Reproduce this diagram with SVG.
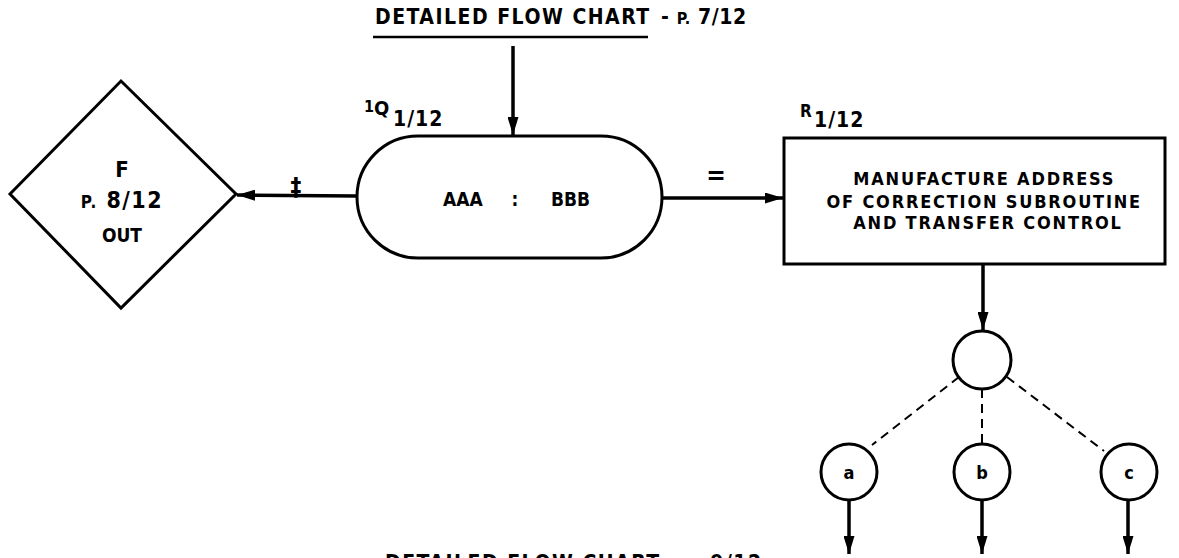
<svg xmlns="http://www.w3.org/2000/svg" width="1179" height="558" viewBox="0 0 1179 558">
<defs>
<style>
.t{font-family:"DejaVu Sans Condensed","Liberation Sans Narrow","Liberation Sans",sans-serif;font-weight:bold;fill:#000}
.s{fill:none;stroke:#000;stroke-width:3}
.c{fill:#fff;stroke:#000;stroke-width:3}
.ln{fill:none;stroke:#000;stroke-width:3.5}
.d{fill:none;stroke:#000;stroke-width:2;stroke-dasharray:9,6}
</style>
<marker id="ah" viewBox="0 0 18 11" refX="18" refY="5.5" markerWidth="18" markerHeight="11" markerUnits="userSpaceOnUse" orient="auto">
<path d="M0,0 L18,5.5 L0,11 Z" fill="#000"/>
</marker>
</defs>
<rect width="1179" height="558" fill="#fff"/>
<g id="title-top">
<text class="t" x="375" y="24" font-size="21" letter-spacing="1.5">DETAILED FLOW CHART</text>
<line x1="373" y1="37" x2="648" y2="37" stroke="#000" stroke-width="2.5"/>
<text class="t" x="661" y="24" font-size="21" letter-spacing="0.6">- <tspan font-size="16">P.</tspan> 7/12</text>
</g>
<g id="connectors">
<line class="ln" x1="513" y1="46" x2="513" y2="135" marker-end="url(#ah)"/>
<line class="ln" x1="357" y1="196" x2="237" y2="195" marker-end="url(#ah)"/>
<line class="ln" x1="662" y1="198" x2="783" y2="198" marker-end="url(#ah)"/>
<line class="ln" x1="983" y1="264" x2="983" y2="330" marker-end="url(#ah)"/>
<line class="d" x1="959" y1="377" x2="872" y2="445"/>
<line class="d" x1="982" y1="389" x2="982" y2="444"/>
<line class="d" x1="1007" y1="377" x2="1104" y2="451"/>
<line class="ln" x1="849" y1="500" x2="849" y2="554" marker-end="url(#ah)"/>
<line class="ln" x1="982" y1="500" x2="982" y2="554" marker-end="url(#ah)"/>
<line class="ln" x1="1128" y1="500" x2="1128" y2="554" marker-end="url(#ah)"/>
<text class="t" x="296" y="195" font-size="24" text-anchor="middle">‡</text>
<text class="t" x="716" y="184" font-size="26" text-anchor="middle">=</text>
</g>
<g id="node-F">
<polygon class="s" points="10,194 121,81 236,194 121,308"/>
<text class="t" x="122" y="177" font-size="22" text-anchor="middle">F</text>
<text class="t" x="122" y="208" font-size="23" text-anchor="middle" letter-spacing="1.5"><tspan font-size="17">P.</tspan> 8/12</text>
<text class="t" x="122" y="242" font-size="19" text-anchor="middle">OUT</text>
</g>
<g id="node-1Q">
<text class="t" x="364" y="112" font-size="16">1</text>
<text class="t" x="374" y="115" font-size="20">Q</text>
<text class="t" x="393" y="126" font-size="21" letter-spacing="1">1/12</text>
<rect class="s" x="357" y="136" width="305" height="122" rx="61" ry="61"/>
<text class="t" x="443" y="206" font-size="19">AAA</text>
<text class="t" x="515" y="206" font-size="19" text-anchor="middle">:</text>
<text class="t" x="551" y="206" font-size="19">BBB</text>
</g>
<g id="node-R">
<text class="t" x="800" y="117" font-size="17">R</text>
<text class="t" x="814" y="127" font-size="21" letter-spacing="1">1/12</text>
<rect class="s" x="784" y="138" width="381" height="126"/>
<text class="t" font-size="18" text-anchor="middle" letter-spacing="1.8">
<tspan x="988" y="185">MANUFACTURE ADDRESS</tspan>
<tspan x="988" y="208">OF CORRECTION SUBROUTINE</tspan>
<tspan x="988" y="229">AND TRANSFER CONTROL</tspan>
</text>
</g>
<g id="node-switch">
<circle class="c" cx="982" cy="360" r="29"/>
</g>
<g id="node-a">
<circle class="c" cx="849" cy="472" r="28"/>
<text class="t" x="849" y="479" font-size="18" text-anchor="middle">a</text>
</g>
<g id="node-b">
<circle class="c" cx="982" cy="472" r="28"/>
<text class="t" x="982" y="479" font-size="18" text-anchor="middle">b</text>
</g>
<g id="node-c">
<circle class="c" cx="1129" cy="472" r="28"/>
<text class="t" x="1129" y="479" font-size="18" text-anchor="middle">c</text>
</g>
<g id="title-bottom">
<text class="t" x="385" y="570" font-size="21" letter-spacing="1.5">DETAILED FLOW CHART - <tspan font-size="16">P.</tspan> 9/12</text>
</g>
</svg>
